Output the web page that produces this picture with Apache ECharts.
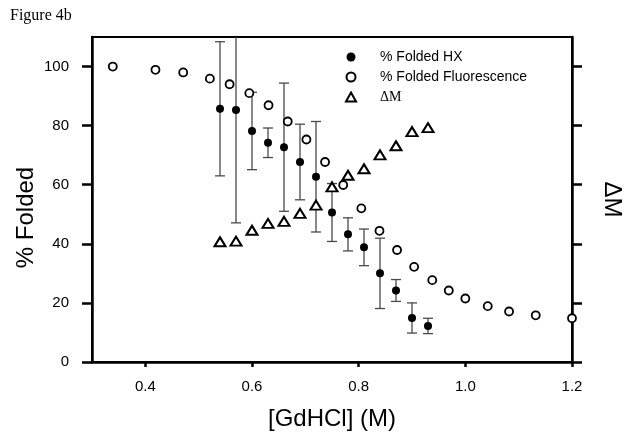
<!DOCTYPE html>
<html><head><meta charset="utf-8">
<script src="https://cdn.jsdelivr.net/npm/echarts@6/dist/echarts.min.js"></script>
<style>html,body{margin:0;padding:0;background:#fff}#c{width:627px;height:438px}</style>
</head><body><div id="c"></div>
<script>
// ---- data ----
const xTicks = [0.4, 0.6, 0.8, 1.0, 1.2];
const yTicks = [0, 20, 40, 60, 80, 100];

const fluorX = [0.339, 0.419, 0.471, 0.521, 0.558, 0.595, 0.631, 0.667, 0.702, 0.737, 0.771, 0.805, 0.839, 0.872, 0.904, 0.938, 0.969, 1.0, 1.042, 1.082, 1.132, 1.2];
const fluorY = [100.0, 98.9, 98.0, 95.9, 94.0, 91.0, 86.9, 81.4, 75.3, 67.7, 59.9, 52.0, 44.4, 37.9, 32.2, 27.7, 24.2, 21.5, 18.9, 17.1, 15.8, 14.8];

const hxX = [0.54, 0.57, 0.60, 0.63, 0.66, 0.69, 0.72, 0.75, 0.78, 0.81, 0.84, 0.87, 0.90, 0.93];
const hxY = [85.7, 85.3, 78.2, 74.2, 72.7, 67.7, 62.7, 50.6, 43.2, 38.8, 30.0, 24.2, 14.9, 12.2];
const hxErr = [22.7, 38.2, 13.1, 5.0, 21.7, 12.8, 18.7, 9.8, 5.6, 6.2, 11.9, 3.7, 5.1, 2.6];

const dmX = [0.54, 0.57, 0.60, 0.63, 0.66, 0.69, 0.72, 0.75, 0.78, 0.81, 0.84, 0.87, 0.90, 0.93];
const dmY = [40.7, 40.9, 44.6, 46.9, 47.6, 50.3, 53.1, 59.3, 63.2, 65.4, 70.1, 73.2, 78.0, 79.3];

const names = ['% Folded HX', '% Folded Fluorescence', '\u0394M'];

// ---- chart ----
const SANS = 'Liberation Sans, Arial, sans-serif';
const SERIF = 'Liberation Serif, Times New Roman, serif';
const chart = echarts.init(document.getElementById('c'), null, {renderer: 'canvas'});

const axisLineStyle = {color: '#000', width: 2.5};

chart.setOption({
  animation: false,
  backgroundColor: '#fff',
  title: {
    text: 'Figure 4b', left: 5, top: 3,
    textStyle: {fontFamily: SERIF, fontSize: 16, fontWeight: 'normal', color: '#000'}
  },
  grid: {
    left: 92, right: 55, top: 37, bottom: 76,
    show: true, borderColor: '#000', borderWidth: 2,
    containLabel: false, outerBoundsMode: 'none'
  },
  legend: {
    orient: 'vertical', left: 340, top: 45,
    itemWidth: 10, itemHeight: 9, itemGap: 6,
    selectedMode: false,
    data: names,
    formatter: n => n === '\u0394M' ? '{s|\u0394M}' : n,
    textStyle: {
      fontFamily: SANS, fontSize: 14, color: '#000', padding: [0, 0, 0, 19],
      rich: {s: {fontFamily: SERIF, fontSize: 14, color: '#000'}}
    }
  },
  xAxis: {
    type: 'value', min: 0.3, max: 1.2,
    axisLine: {show: true, onZero: false, lineStyle: axisLineStyle},
    axisTick: {show: true, customValues: xTicks, length: 5, lineStyle: axisLineStyle},
    axisLabel: {customValues: xTicks, formatter: v => v.toFixed(1), fontFamily: SANS, fontSize: 15, color: '#000', margin: 17},
    splitLine: {show: false},
    name: '[GdHCl] (M)', nameLocation: 'middle', nameGap: 45, nameMoveOverlap: false,
    nameTextStyle: {fontFamily: SANS, fontSize: 24, color: '#000'}
  },
  yAxis: [{
    type: 'value', min: 0, max: 110, position: 'left',
    axisLine: {show: true, onZero: false, lineStyle: axisLineStyle},
    axisTick: {show: true, customValues: yTicks, length: 10, lineStyle: axisLineStyle},
    axisLabel: {customValues: yTicks, fontFamily: SANS, fontSize: 15, color: '#000', margin: 23},
    splitLine: {show: false},
    name: '% Folded', nameLocation: 'middle', nameGap: 54, nameMoveOverlap: false,
    nameTextStyle: {fontFamily: SANS, fontSize: 24, color: '#000', padding: [0, 36, 0, 0]}
  }, {
    type: 'value', min: 0, max: 110, position: 'right',
    axisLine: {show: true, onZero: false, lineStyle: axisLineStyle},
    axisTick: {show: true, customValues: yTicks, length: 10, lineStyle: axisLineStyle},
    axisLabel: {show: false},
    splitLine: {show: false},
    name: '\u0394M', nameLocation: 'middle', nameGap: 28, nameRotate: -90, nameMoveOverlap: false,
    nameTextStyle: {fontFamily: SANS, fontSize: 24, color: '#000'}
  }],
  series: [{
    type: 'custom', name: 'err', silent: true, clip: true, z: 1,
    data: hxX.map((x, i) => [x, hxY[i] - hxErr[i], hxY[i] + hxErr[i]]),
    encode: {x: 0, y: [1, 2]},
    renderItem(params, api) {
      const x = api.value(0);
      const pLo = api.coord([x, api.value(1)]);
      const pHi = api.coord([x, api.value(2)]);
      const hw = 5;
      const style = {stroke: '#4a4a4a', lineWidth: 1.3};
      return {type: 'group', children: [
        {type: 'line', shape: {x1: pLo[0], y1: pLo[1], x2: pHi[0], y2: pHi[1]}, style},
        {type: 'line', shape: {x1: pLo[0] - hw, y1: pLo[1], x2: pLo[0] + hw, y2: pLo[1]}, style},
        {type: 'line', shape: {x1: pHi[0] - hw, y1: pHi[1], x2: pHi[0] + hw, y2: pHi[1]}, style}
      ]};
    }
  }, {
    type: 'scatter', name: names[0], z: 3,
    data: hxX.map((x, i) => [x, hxY[i]]),
    symbol: 'circle', symbolSize: 8,
    itemStyle: {color: '#000', opacity: 1}
  }, {
    type: 'scatter', name: names[1], z: 2,
    data: fluorX.map((x, i) => [x, fluorY[i]]),
    symbol: 'circle', symbolSize: 8,
    itemStyle: {color: '#fff', borderColor: '#000', borderWidth: 1.8, opacity: 1}
  }, {
    type: 'scatter', name: names[2], yAxisIndex: 1, z: 4,
    data: dmX.map((x, i) => [x, dmY[i]]),
    symbol: 'triangle', symbolSize: [11, 9],
    itemStyle: {color: '#fff', borderColor: '#000', borderWidth: 2, opacity: 1}
  }]
});
</script>
</body></html>
